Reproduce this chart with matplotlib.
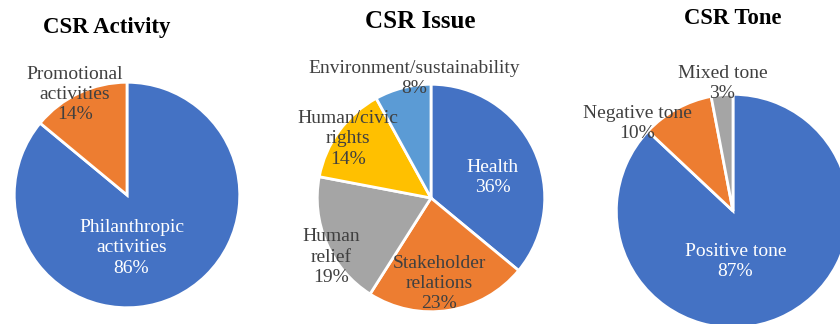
import matplotlib

matplotlib.use("Agg")
import matplotlib.pyplot as plt
import numpy as np

W, H = 840, 324

# CSR Activity
activity_labels = ["Philanthropic\nactivities", "Promotional\nactivities"]
activity_values = [86, 14]

# CSR Issue
issue_labels = [
    "Health",
    "Stakeholder\nrelations",
    "Human\nrelief",
    "Human/civic\nrights",
    "Environment/sustainability",
]
issue_values = [36, 23, 19, 14, 8]

# CSR Tone
tone_labels = ["Positive tone", "Negative tone", "Mixed tone"]
tone_values = [87, 10, 3]

BLUE = "#4472C4"
ORANGE = "#ED7D31"
GRAY = "#A5A5A5"
YELLOW = "#FFC000"
LBLUE = "#5B9BD5"
DARK = "#404040"

plt.rcParams["font.family"] = ["Liberation Serif", "DejaVu Serif"]


def draw_pie(fig, cx, cy, r, values, labels, colors, text_colors, offsets, title, title_xy, title_size):
    ax = fig.add_axes([(cx - r) / W, (H - cy - r) / H, 2 * r / W, 2 * r / H])
    ax.pie(
        values,
        colors=colors,
        startangle=90,
        counterclock=False,
        radius=1.0,
        wedgeprops=dict(edgecolor="white", linewidth=2),
    )
    ax.set_xlim(-1.02, 1.02)
    ax.set_ylim(-1.02, 1.02)
    ax.set_aspect("equal")
    ax.axis("off")
    for lab, val, tc, (dx, dy) in zip(labels, values, text_colors, offsets):
        ax.text(dx, dy, f"{lab}\n{val}%", ha="center", va="center", fontsize=14,
                color=tc, linespacing=1.25, clip_on=False)
    fig.text(title_xy[0] / W, 1 - title_xy[1] / H, title, ha="center", va="center",
             fontsize=title_size, fontweight="bold", color="black")


def main() -> None:
    fig = plt.figure(figsize=(W / 100, H / 100), dpi=100)
    fig.patch.set_facecolor("white")

    draw_pie(
        fig, 127, 195, 115, activity_values, activity_labels,
        [BLUE, ORANGE], ["white", DARK],
        [(0.04, -0.47), (-0.46, 0.89)],
        "CSR Activity", (107, 28), 16.5,
    )
    draw_pie(
        fig, 431, 198, 116, issue_values, issue_labels,
        [BLUE, ORANGE, GRAY, YELLOW, LBLUE], ["white", DARK, DARK, DARK, DARK],
        [(0.54, 0.18), (0.07, -0.75), (-0.88, -0.52), (-0.73, 0.52), (-0.15, 1.05)],
        "CSR Issue", (420, 21), 18,
    )
    draw_pie(
        fig, 733, 211, 119, tone_values, tone_labels,
        [BLUE, ORANGE, GRAY], ["white", DARK, DARK],
        [(0.02, -0.43), (-0.82, 0.75), (-0.09, 1.09)],
        "CSR Tone", (733, 18), 16.3,
    )

    fig.savefig("out.png", dpi=100, facecolor="white")
    plt.close(fig)


if __name__ == "__main__":
    main()
